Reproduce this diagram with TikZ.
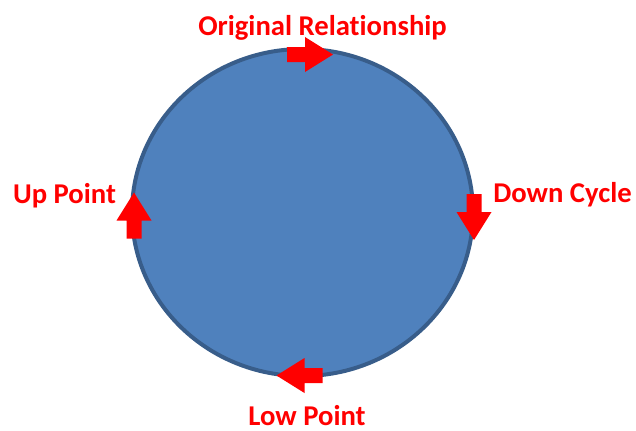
\documentclass[tikz,border=0pt]{standalone}
\usepackage{fontspec}
\setmainfont{Carlito}[Ligatures=NoCommon]
\usepackage{tikz}
\usetikzlibrary{shapes.geometric}
\definecolor{cyFill}{HTML}{4F81BD}
\definecolor{cyEdge}{HTML}{385D8A}
\definecolor{cyRed}{HTML}{FF0000}

\begin{document}
\begin{tikzpicture}[x=0.75pt, y=-0.75pt,
  lab/.style={font=\fontsize{21.5}{24}\selectfont\bfseries, text=cyRed, inner sep=0pt, anchor=base},
  blk/.pic={\fill[cyRed] (-23,-7.5) -- (-5,-7.5) -- (-5,-17.5) -- (23,0)
    -- (-5,17.5) -- (-5,7.5) -- (-23,7.5) -- cycle;}]
\useasboundingbox (0,0) rectangle (636,430);
% the cycle
\node[ellipse, draw=cyEdge, line width=3pt, fill=cyFill, inner sep=0pt,
  minimum width=341*0.75pt, minimum height=327*0.75pt] (ring) at (302.5,212.5) {};
% block arrows round it
\pic (aTop) at (310,54.5) {blk};
\pic[rotate=-90] (aDown) at (474,217) {blk};
\pic[rotate=180] (aLow) at (299.5,375.5) {blk};
\pic[rotate=90] (aUp) at (134,215.5) {blk};
% labels
\node[lab] (tTop) at (322.5,35) {Original Relationship};
\node[lab] (tDown) at (562.5,202) {Down Cycle};
\node[lab] (tLow) at (307,425.5) {Low Point};
\node[lab] (tUp) at (64.5,203) {Up Point};
\end{tikzpicture}
\end{document}
